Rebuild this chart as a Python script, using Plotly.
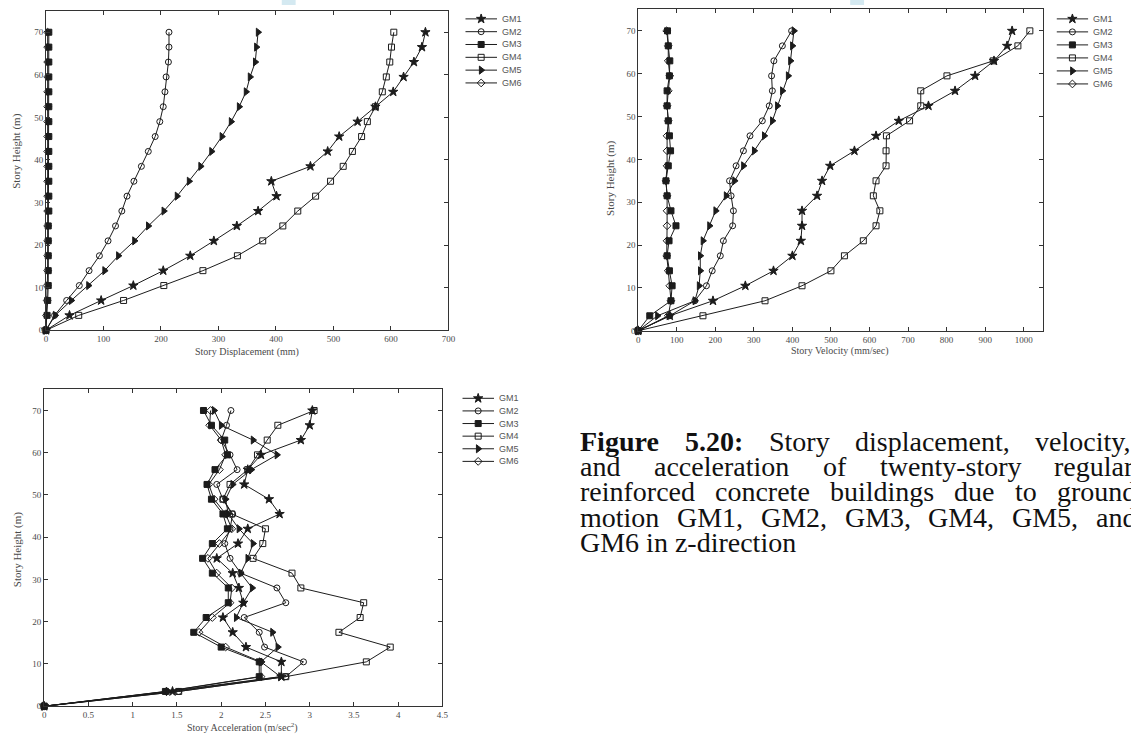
import plotly.graph_objects as go

W, H = 1131, 745

# ---------------- data ----------------
heights = [0, 3.5, 7, 10.5, 14, 17.5, 21, 24.5, 28, 31.5, 35,
           38.5, 42, 45.5, 49, 52.5, 56, 59.5, 63, 66.5, 70]
names = ["GM1", "GM2", "GM3", "GM4", "GM5", "GM6"]

# story displacement (mm)
disp_GM1 = [0, 41, 96, 152, 204, 251, 292, 332, 369, 401, 392, 460, 490, 510, 542, 573, 604, 622, 640, 654, 660]
disp_GM2 = [0, 15, 36, 58, 75, 93, 108, 121, 132, 141, 153, 166, 178, 190, 198, 204, 207, 209, 213, 214, 214]
disp_GM3 = [0, 2, 3, 4, 4, 4, 4, 4, 5, 5, 5, 5, 5, 5, 5, 5, 5, 5, 5, 5, 5]
disp_GM4 = [0, 57, 135, 205, 273, 333, 377, 412, 438, 469, 495, 517, 533, 549, 559, 573, 585, 592, 598, 601, 605]
disp_GM5 = [0, 16, 44, 74, 102, 126, 154, 178, 205, 228, 249, 269, 288, 306, 322, 336, 348, 355, 364, 366, 369]
disp_GM6 = [0, 1, 2, 2, 3, 3, 3, 3, 3, 3, 3, 3, 3, 3, 3, 3, 3, 3, 3, 3, 3]

# story velocity (mm/sec)
vel_GM1 = [0, 82, 194, 278, 351, 400, 422, 425, 425, 464, 477, 498, 561, 617, 676, 753, 822, 874, 923, 957, 970]
vel_GM2 = [0, 82, 147, 177, 192, 213, 221, 245, 247, 241, 237, 254, 273, 290, 322, 340, 348, 346, 352, 374, 398]
vel_GM3 = [0, 30, 85, 88, 81, 75, 80, 98, 85, 75, 72, 78, 84, 81, 78, 75, 75, 81, 82, 78, 76]
vel_GM4 = [0, 168, 329, 425, 500, 535, 584, 617, 627, 610, 617, 643, 643, 644, 704, 733, 733, 801, 921, 985, 1016]
vel_GM5 = [0, 50, 147, 158, 161, 161, 168, 185, 201, 228, 250, 273, 301, 327, 348, 361, 374, 389, 395, 400, 404]
vel_GM6 = [0, 78, 85, 82, 78, 74, 75, 75, 75, 75, 72, 75, 75, 75, 78, 75, 78, 82, 78, 78, 74]

# story acceleration (m/sec^2)
acc_GM1 = [0, 1.45, 2.68, 2.68, 2.28, 2.13, 2.02, 2.25, 2.20, 2.13, 1.95, 2.19, 2.30, 2.66, 2.54, 2.26, 2.30, 2.45, 2.90, 3.00, 3.03]
acc_GM2 = [0, 1.52, 2.73, 2.93, 2.49, 2.43, 2.26, 2.73, 2.63, 2.22, 2.10, 2.04, 2.10, 2.13, 2.02, 1.95, 2.18, 2.10, 2.00, 2.06, 2.11]
acc_GM3 = [0, 1.37, 2.43, 2.43, 2.00, 1.69, 1.83, 2.08, 2.08, 1.90, 1.79, 1.90, 2.07, 2.02, 1.89, 1.84, 1.93, 2.07, 2.04, 1.89, 1.80]
acc_GM4 = [0, 1.52, 2.73, 3.64, 3.91, 3.33, 3.57, 3.61, 2.90, 2.80, 2.36, 2.47, 2.50, 2.12, 2.02, 2.10, 2.30, 2.41, 2.52, 2.64, 3.05]
acc_GM5 = [0, 1.40, 2.67, 2.45, 2.64, 2.58, 2.17, 2.25, 2.35, 2.22, 2.30, 2.36, 2.20, 2.08, 2.05, 2.13, 2.34, 2.63, 2.36, 2.00, 1.92]
acc_GM6 = [0, 1.38, 2.45, 2.45, 2.05, 1.75, 1.90, 2.10, 2.12, 1.95, 1.85, 1.98, 2.12, 2.05, 1.92, 1.86, 1.98, 2.05, 2.00, 1.87, 1.88]

disp_ticks = [0, 100, 200, 300, 400, 500, 600, 700]
vel_ticks = [0, 100, 200, 300, 400, 500, 600, 700, 800, 900, 1000]
acc_ticks = [0, 0.5, 1, 1.5, 2, 2.5, 3, 3.5, 4, 4.5]
acc_tick_labels = ["0", "0.5", "1", "1.5", "2", "2.5", "3", "3.5", "4", "4.5"]
height_ticks = [0, 10, 20, 30, 40, 50, 60, 70]

# ---------------- styles ----------------
symbols = ["star", "circle-open", "square", "square-open", "triangle-right", "diamond-open"]
msizes = [7, 6, 6, 6, 7, 6]
LINE = "#1c1c1c"
TXT = "#4a4a4a"


def px_x(p):
    return p / W


def px_y(p):
    return 1 - p / H


fig = go.Figure()

panels = [
    ("x", "y", [disp_GM1, disp_GM2, disp_GM3, disp_GM4, disp_GM5, disp_GM6]),
    ("x2", "y2", [vel_GM1, vel_GM2, vel_GM3, vel_GM4, vel_GM5, vel_GM6]),
    ("x3", "y3", [acc_GM1, acc_GM2, acc_GM3, acc_GM4, acc_GM5, acc_GM6]),
]
for xa, ya, series in panels:
    for k, vals in enumerate(series):
        fig.add_trace(go.Scatter(
            x=vals, y=heights, mode="lines+markers", name=names[k],
            xaxis=xa, yaxis=ya, showlegend=False, cliponaxis=False,
            line=dict(color=LINE, width=1),
            marker=dict(symbol=symbols[k], size=msizes[k], color=LINE,
                        line=dict(color=LINE, width=1)),
        ))

# legend boxes drawn on hidden helper axes
legend_geo = [
    # (line x0, line x1, first row y, row step)  in pixels
    (467, 499, 19, 12.9),
    (1063, 1095, 19, 13.1),
    (464, 496, 401, 12.7),
]
annotations = []
for n, (lx0, lx1, ry0, rstep) in enumerate(legend_geo):
    ax = 4 + n
    for k in range(len(names)):
        fig.add_trace(go.Scatter(
            x=[0, 1], y=[k, k], mode="lines", xaxis=f"x{ax}", yaxis=f"y{ax}",
            showlegend=False, hoverinfo="skip", cliponaxis=False,
            line=dict(color=LINE, width=1)))
        fig.add_trace(go.Scatter(
            x=[0.5], y=[k], mode="markers", xaxis=f"x{ax}", yaxis=f"y{ax}",
            showlegend=False, hoverinfo="skip", cliponaxis=False,
            marker=dict(symbol=symbols[k], size=msizes[k], color=LINE,
                        line=dict(color=LINE, width=1))))
        annotations.append(dict(
            x=1, y=k, xref=f"x{ax}", yref=f"y{ax}", text=names[k], showarrow=False,
            xanchor="left", yanchor="middle", xshift=3,
            font=dict(family="Liberation Sans", size=9, color="#555555")))

axis_common = dict(
    ticks="inside", ticklen=4, tickwidth=1, tickcolor="#333333",
    showline=True, linecolor="#333333", linewidth=1, mirror="ticks",
    showgrid=False, zeroline=False,
    tickfont=dict(family="Liberation Serif", size=9, color=TXT),
)

# plot boxes in pixels: (left, right, top, bottom)
boxes = [(44.3, 450, 11, 332.5), (641.3, 1049.3, 9.5, 333), (42.5, 444, 392, 711)]
xranges = [[0, 700], [0, 1050], [0, 4.5]]
xtickvals = [disp_ticks, vel_ticks, acc_ticks]
xticktext = [[str(v) for v in disp_ticks], [str(v) for v in vel_ticks], acc_tick_labels]

layout = dict(
    width=W, height=H, margin=dict(l=0, r=0, t=0, b=0),
    paper_bgcolor="white", plot_bgcolor="white", showlegend=False,
)
for i, (l, r, t, b) in enumerate(boxes):
    sfx = "" if i == 0 else str(i + 1)
    layout["xaxis" + sfx] = dict(
        axis_common, domain=[px_x(l), px_x(r)], range=xranges[i],
        tickvals=xtickvals[i], ticktext=xticktext[i], anchor="y" + sfx)
    layout["yaxis" + sfx] = dict(
        axis_common, domain=[px_y(b), px_y(t)], range=[0, 75],
        tickvals=height_ticks, anchor="x" + sfx)

for n, (lx0, lx1, ry0, rstep) in enumerate(legend_geo):
    ax = 4 + n
    top = ry0 - rstep / 2
    bot = ry0 + rstep * (len(names) - 0.5)
    layout[f"xaxis{ax}"] = dict(domain=[px_x(lx0), px_x(lx1)], range=[0, 1],
                                visible=False, anchor=f"y{ax}")
    layout[f"yaxis{ax}"] = dict(domain=[px_y(bot), px_y(top)],
                                range=[len(names) - 0.5, -0.5],
                                visible=False, anchor=f"x{ax}")


def title_ann(text, cx, cy, angle=0, size=10):
    return dict(x=px_x(cx), y=px_y(cy), xref="paper", yref="paper", text=text,
                showarrow=False, textangle=angle, xanchor="center", yanchor="middle",
                font=dict(family="Liberation Serif", size=size, color=TXT))


annotations += [
    title_ann("Story Displacement (mm)", 247, 354),
    title_ann("Story Height (m)", 15, 152, -90, 11),
    title_ann("Story Velocity (mm/sec)", 845, 353),
    title_ann("Story Height (m)", 614, 180, -90, 11),
    title_ann("Story Acceleration (m/sec<sup>2</sup>)", 242, 732),
    title_ann("Story Height (m)", 15, 553, -90, 11),
]

# ---------------- caption (justified) ----------------
TR = {' ': .25, 'a': .444, 'b': .5, 'c': .444, 'd': .5, 'e': .444, 'f': .333, 'g': .5,
      'h': .5, 'i': .278, 'l': .278, 'm': .778, 'n': .5, 'o': .5, 'p': .5, 'r': .333,
      's': .389, 't': .278, 'u': .5, 'v': .5, 'w': .722, 'y': .5, 'z': .444,
      'G': .722, 'M': .889, 'S': .556, ',': .25, '.': .25, '-': .333, ':': .278,
      '0': .5, '1': .5, '2': .5, '3': .5, '4': .5, '5': .5, '6': .5}
TB = {'F': .611, 'i': .278, 'g': .5, 'u': .556, 'r': .444, 'e': .444,
      '5': .5, '.': .25, '2': .5, '0': .5, ':': .333}

CAP = 28
cap_lines = [
    (["Figure", "5.20:", "Story", "displacement,", "velocity,"], 444, 1137, 2),
    (["and", "acceleration", "of", "twenty-story", "regular"], 469.5, 1139, 0),
    (["reinforced", "concrete", "buildings", "due", "to", "ground"], 495, 1142, 0),
    (["motion", "GM1,", "GM2,", "GM3,", "GM4,", "GM5,", "and"], 520.5, 1142, 0),
    (["GM6 in z-direction"], 546, None, 0),
]
X0 = 582
for words, cy, right, nbold in cap_lines:
    widths = []
    for j, w in enumerate(words):
        table = TB if j < nbold else TR
        widths.append(sum(table.get(c, .5) for c in w) * CAP)
    gap = 0 if right is None else (right - X0 - sum(widths)) / (len(words) - 1)
    xpos = X0
    for j, w in enumerate(words):
        txt = "<b>" + w + "</b>" if j < nbold else w
        annotations.append(dict(
            x=px_x(xpos), y=px_y(cy), xref="paper", yref="paper",
            text=txt, showarrow=False, xanchor="left", yanchor="middle",
            borderpad=0, font=dict(family="Liberation Serif", size=CAP, color="#111111")))
        xpos += widths[j] + gap

layout["annotations"] = annotations

# faint scan smudges at the top of the two upper panels
layout["shapes"] = [
    dict(type="rect", xref="paper", yref="paper", x0=px_x(282), x1=px_x(296),
         y0=px_y(5), y1=px_y(0), line=dict(width=0), fillcolor="#d4e9f1"),
    dict(type="rect", xref="paper", yref="paper", x0=px_x(855), x1=px_x(869),
         y0=px_y(5), y1=px_y(0), line=dict(width=0), fillcolor="#d4e9f1"),
]

fig.update_layout(**layout)

fig.write_html("out.html", config={"displayModeBar": False},
               post_script="document.body.style.margin='0';")
